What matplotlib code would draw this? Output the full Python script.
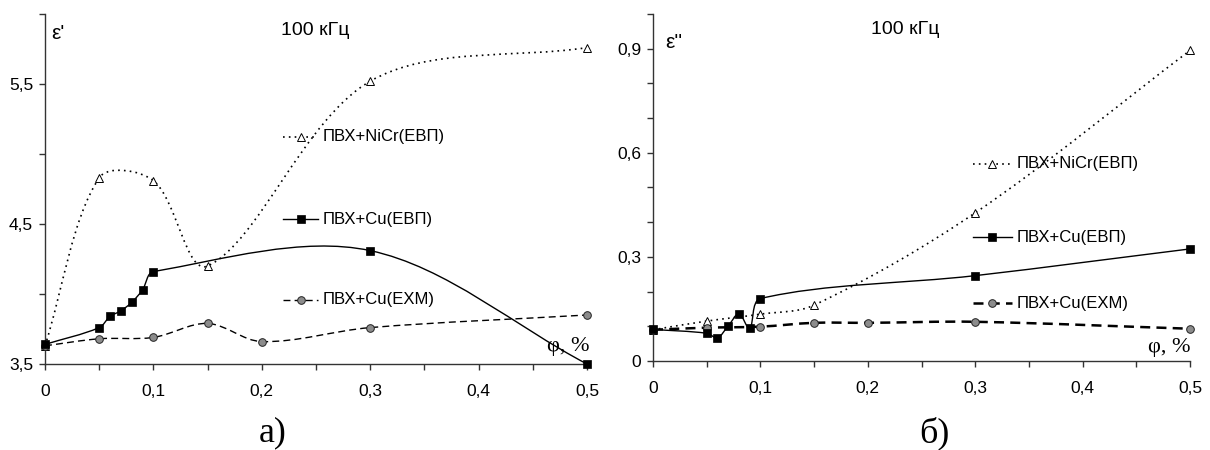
import numpy as np
import matplotlib
matplotlib.use("Agg")
import matplotlib.pyplot as plt
from matplotlib.path import Path
from matplotlib.patches import PathPatch
from matplotlib.ticker import MultipleLocator, FuncFormatter

plt.rcParams['font.family'] = ['Liberation Sans', 'DejaVu Sans']

# concentration, %
phi_nicr = [0, 0.05, 0.1, 0.15, 0.3, 0.5]
phi_cu = [0, 0.05, 0.06, 0.07, 0.08, 0.09, 0.1, 0.3, 0.5]
phi_chm = [0, 0.05, 0.1, 0.15, 0.2, 0.3, 0.5]

# eps' (panel a)
eps1_nicr = [3.63, 4.83, 4.81, 4.20, 5.52, 5.76]
eps1_cu = [3.64, 3.76, 3.84, 3.88, 3.94, 4.03, 4.16, 4.31, 3.50]
eps1_chm = [3.63, 3.68, 3.69, 3.79, 3.66, 3.76, 3.85]

# eps'' (panel b)
eps2_nicr = [0.09, 0.115, 0.135, 0.161, 0.427, 0.895]
eps2_cu = [0.091, 0.080, 0.067, 0.101, 0.136, 0.094, 0.180, 0.246, 0.323]
eps2_chm = [0.090, 0.096, 0.099, 0.110, 0.110, 0.113, 0.093]

labels = ['ПВХ+NiCr(ЕВП)', 'ПВХ+Cu(ЕВП)', 'ПВХ+Cu(ЕХМ)']


def comma(v, pos):
    if abs(v) < 1e-9:
        return '0'
    return ('%g' % round(v, 2)).replace('.', ',')


def smooth(ax, x, y, **kw):
    # excel-like smoothed line: bezier through the points, built in pixel space
    pts = ax.transData.transform(np.column_stack([x, y]))
    n = len(pts)
    verts = [pts[0]]
    codes = [Path.MOVETO]
    for i in range(n - 1):
        p0 = pts[max(i - 1, 0)]
        p1 = pts[i]
        p2 = pts[i + 1]
        p3 = pts[min(i + 2, n - 1)]
        d01 = np.hypot(*(p1 - p0))
        d12 = np.hypot(*(p2 - p1))
        d23 = np.hypot(*(p3 - p2))
        f1 = d12 / (d01 + d12) if d01 + d12 > 0 else 0.5
        f2 = d12 / (d12 + d23) if d12 + d23 > 0 else 0.5
        c1 = p1 + (p2 - p0) * f1 / 3
        c2 = p2 - (p3 - p1) * f2 / 3
        verts += [c1, c2, p2]
        codes += [Path.CURVE4] * 3
    verts = ax.transData.inverted().transform(np.array(verts))
    patch = PathPatch(Path(verts, codes), fill=False, **kw)
    ax.add_patch(patch)


fig = plt.figure(figsize=(12.1, 4.5), dpi=100)
ax1 = fig.add_axes([45 / 1210, 86 / 450, 542 / 1210, 350 / 450])
ax2 = fig.add_axes([653 / 1210, 89 / 450, 537 / 1210, 347 / 450])

ax1.set_xlim(0, 0.5)
ax1.set_ylim(3.5, 6.0)
ax2.set_xlim(0, 0.5)
ax2.set_ylim(0, 1.0)

tri = dict(marker='^', ms=5.5, mfc='white', mec='black', mew=0.7)
sq = dict(marker='s', ms=6, mfc='black', mec='black', mew=0.5)
circ = dict(marker='o', ms=5.5, mfc='#8c8c8c', mec='#222222', mew=0.7)

for ax, e_nicr, e_cu, e_chm, thick in [(ax1, eps1_nicr, eps1_cu, eps1_chm, 1.0),
                                       (ax2, eps2_nicr, eps2_cu, eps2_chm, 1.8)]:
    smooth(ax, phi_nicr, e_nicr, ec='black', lw=1.2, ls=(0, (1, 2.5)))
    smooth(ax, phi_cu, e_cu, ec='black', lw=1.0, ls='-')
    smooth(ax, phi_chm, e_chm, ec='black', lw=thick, ls=(0, (5, 3)) if thick < 1.5 else (0, (4, 2.5)))
    ax.plot(phi_nicr, e_nicr, ls='none', clip_on=False, zorder=3, **tri)
    ax.plot(phi_cu, e_cu, ls='none', clip_on=False, zorder=4, **sq)
    ax.plot(phi_chm, e_chm, ls='none', clip_on=False, zorder=3, **circ)

    for s in ['top', 'right']:
        ax.spines[s].set_visible(False)
    for s in ['left', 'bottom']:
        ax.spines[s].set_color('#333333')
        ax.spines[s].set_linewidth(1.0)
    ax.xaxis.set_major_locator(MultipleLocator(0.1))
    ax.xaxis.set_minor_locator(MultipleLocator(0.05))
    ax.xaxis.set_major_formatter(FuncFormatter(comma))
    ax.tick_params(axis='x', which='both', direction='out', length=4, width=1,
                   color='#333333', labelsize=12.5, pad=10.5)
    ax.tick_params(axis='y', which='both', direction='out', length=4, width=1,
                   color='#333333', labelsize=12.5, pad=4.5)

ax1.yaxis.set_major_locator(MultipleLocator(1.0))
ax1.yaxis.set_minor_locator(MultipleLocator(0.5))
ax1.yaxis.set_major_formatter(FuncFormatter(comma))
ax1.set_yticks([3.5, 4.5, 5.5])
ax2.yaxis.set_major_locator(MultipleLocator(0.3))
ax2.yaxis.set_minor_locator(MultipleLocator(0.1))
ax2.yaxis.set_major_formatter(FuncFormatter(comma))

# inline legends
leg_pos = {ax1: ([0.439, 0.504], 0.472, 0.513, [0.649, 0.414, 0.183]),
           ax2: ([0.596, 0.669], 0.631, 0.678, [0.568, 0.357, 0.167])}
for ax in (ax1, ax2):
    xs, xm, xt, ys = leg_pos[ax]
    styles = [(dict(ls=(0, (1, 2.5)), lw=1.2), tri),
              (dict(ls='-', lw=1.0), sq),
              (dict(ls=(0, (5, 3)) if ax is ax1 else (0, (4, 2.5)), lw=1.0 if ax is ax1 else 1.8), circ)]
    for (lst, mk), lab, yy in zip(styles, labels, ys):
        ax.plot(xs, [yy, yy], color='black', transform=ax.transAxes, clip_on=False, **lst)
        ax.plot([xm], [yy], ls='none', transform=ax.transAxes, clip_on=False, zorder=5, **mk)
        ax.text(xt, yy, lab, transform=ax.transAxes, fontsize=12, va='center', ha='left')

ax1.text(0.498, 0.954, '100 кГц', transform=ax1.transAxes, fontsize=14, ha='center', va='center')
ax2.text(0.469, 0.954, '100 кГц', transform=ax2.transAxes, fontsize=14, ha='center', va='center')
ax1.text(0.011, 0.943, "ε'", transform=ax1.transAxes, fontsize=15, ha='left', va='center')
ax2.text(0.022, 0.919, "ε''", transform=ax2.transAxes, fontsize=15, ha='left', va='center')
ax1.text(1.005, 0.049, 'φ, %', transform=ax1.transAxes, fontsize=16, ha='right', va='center',
         family=['Liberation Serif', 'DejaVu Serif'])
ax2.text(1.0, 0.04, 'φ, %', transform=ax2.transAxes, fontsize=16, ha='right', va='center',
         family=['Liberation Serif', 'DejaVu Serif'])

fig.text(273 / 1210, 1 - 433 / 450, 'а)', fontsize=26, ha='center', va='center',
         family=['Liberation Serif', 'DejaVu Serif'])
fig.text(934 / 1210, 1 - 433 / 450, 'б)', fontsize=26, ha='center', va='center',
         family=['Liberation Serif', 'DejaVu Serif'])

fig.savefig('out.png', dpi=100)
